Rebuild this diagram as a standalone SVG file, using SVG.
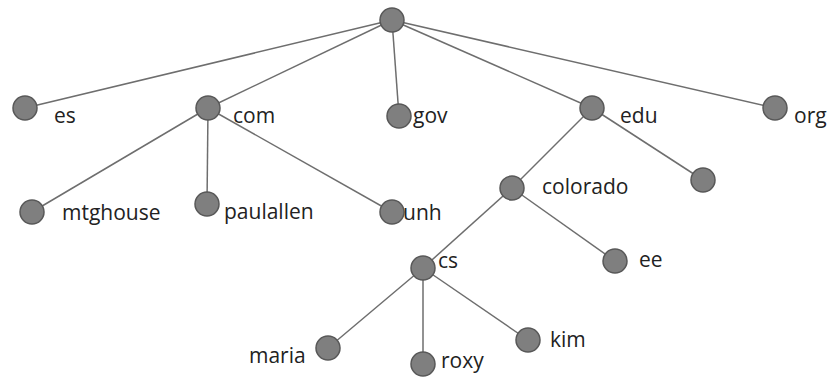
<svg xmlns="http://www.w3.org/2000/svg" width="834" height="380" viewBox="0 0 834 380">
<style>
.e{stroke:#6e6e6e;stroke-width:1.5;fill:none}
.n{fill:#7f7f7f;stroke:#585858;stroke-width:1.5}
.t{font-family:"Open Sans","Liberation Sans",sans-serif;font-size:21px;fill:#222222}
</style>
<rect width="834" height="380" fill="#ffffff"/>
<g id="connectors">
<line class="e" x1="392" y1="20" x2="25" y2="108"/>
<line class="e" x1="392" y1="20" x2="208" y2="108"/>
<line class="e" x1="392" y1="20" x2="399" y2="116"/>
<line class="e" x1="392" y1="20" x2="592" y2="108"/>
<line class="e" x1="392" y1="20" x2="775" y2="108"/>
<line class="e" x1="208" y1="108" x2="32" y2="212"/>
<line class="e" x1="208" y1="108" x2="207" y2="204"/>
<line class="e" x1="208" y1="108" x2="392" y2="212"/>
<line class="e" x1="592" y1="108" x2="512" y2="188"/>
<line class="e" x1="592" y1="108" x2="703" y2="180"/>
<line class="e" x1="512" y1="188" x2="423" y2="268"/>
<line class="e" x1="512" y1="188" x2="615" y2="261"/>
<line class="e" x1="423" y1="268" x2="328" y2="348"/>
<line class="e" x1="423" y1="268" x2="423" y2="364"/>
<line class="e" x1="423" y1="268" x2="528" y2="340"/>
</g>
<g id="root"><circle class="n" cx="392" cy="20" r="12"/></g>
<g id="es"><circle class="n" cx="25" cy="108" r="12"/><text class="t" x="54" y="123">es</text></g>
<g id="com"><circle class="n" cx="208" cy="108" r="12"/><text class="t" x="233" y="123">com</text></g>
<g id="gov"><circle class="n" cx="399" cy="116" r="12"/><text class="t" x="413" y="123">gov</text></g>
<g id="edu"><circle class="n" cx="592" cy="108" r="12"/><text class="t" x="620" y="123">edu</text></g>
<g id="org"><circle class="n" cx="775" cy="108" r="12"/><text class="t" x="794" y="123">org</text></g>
<g id="mtghouse"><circle class="n" cx="32" cy="212" r="12"/><text class="t" x="62" y="220">mtghouse</text></g>
<g id="paulallen"><circle class="n" cx="207" cy="204" r="12"/><text class="t" x="224" y="219">paulallen</text></g>
<g id="unh"><circle class="n" cx="392" cy="212" r="12"/><text class="t" x="403" y="220">unh</text></g>
<g id="colorado"><circle class="n" cx="512" cy="188" r="12"/><text class="t" x="542" y="194">colorado</text></g>
<g id="edu-child"><circle class="n" cx="703" cy="180" r="12"/></g>
<g id="cs"><circle class="n" cx="423" cy="268" r="12"/><text class="t" x="438" y="268">cs</text></g>
<g id="ee"><circle class="n" cx="615" cy="261" r="12"/><text class="t" x="639" y="267">ee</text></g>
<g id="maria"><circle class="n" cx="328" cy="348" r="12"/><text class="t" x="249" y="363">maria</text></g>
<g id="roxy"><circle class="n" cx="423" cy="364" r="12"/><text class="t" x="441" y="368">roxy</text></g>
<g id="kim"><circle class="n" cx="528" cy="340" r="12"/><text class="t" x="550" y="347">kim</text></g>
</svg>
